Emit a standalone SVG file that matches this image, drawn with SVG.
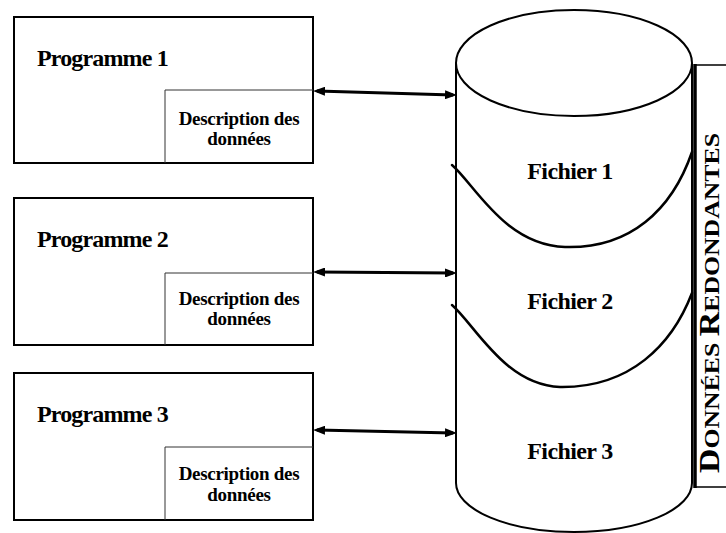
<svg xmlns="http://www.w3.org/2000/svg" width="726" height="533" viewBox="0 0 726 533">
  <defs>
    <style>
      .frame { fill: #fff; stroke: #000; stroke-width: 2; }
      .inner { fill: none; stroke: #333; stroke-width: 1; }
      .title { font-family: "Liberation Serif", "Times New Roman", serif; font-weight: bold; font-size: 24px; letter-spacing: -0.85px; fill: #000; }
      .desc { font-family: "Liberation Serif", "Times New Roman", serif; font-weight: bold; font-size: 19px; letter-spacing: -0.3px; fill: #000; text-anchor: middle; }
      .file { font-family: "Liberation Serif", "Times New Roman", serif; font-weight: bold; font-size: 24px; letter-spacing: -0.6px; fill: #000; text-anchor: middle; }
      .drum { fill: none; stroke: #000; stroke-width: 2; }
      .wave { fill: none; stroke: #000; stroke-width: 2.5; stroke-linecap: round; }
      .link { stroke: #000; stroke-width: 3; fill: none; }
      .label { font-family: "Liberation Serif", "Times New Roman", serif; font-weight: bold; fill: #000; }
    </style>
    <marker id="head" viewBox="0 0 12 9" refX="8" refY="4.5" markerWidth="12" markerHeight="9" markerUnits="userSpaceOnUse" orient="auto-start-reverse">
      <path d="M0,0 L12,4.5 L0,9 z" fill="#000"/>
    </marker>
  </defs>

  <rect width="726" height="533" fill="#fff"/>

  <!-- Program 1 -->
  <g id="programme1">
    <rect class="frame" x="14" y="17" width="299" height="146"/>
    <path class="inner" d="M313,90 H165 V163"/>
    <text class="title" x="37" y="66">Programme 1</text>
    <text class="desc" x="239" y="125">Description des</text>
    <text class="desc" x="239" y="145">données</text>
  </g>

  <!-- Program 2 -->
  <g id="programme2">
    <rect class="frame" x="14" y="198" width="299" height="147"/>
    <path class="inner" d="M313,273 H165 V345"/>
    <text class="title" x="37" y="247">Programme 2</text>
    <text class="desc" x="239" y="305">Description des</text>
    <text class="desc" x="239" y="325">données</text>
  </g>

  <!-- Program 3 -->
  <g id="programme3">
    <rect class="frame" x="14" y="373" width="299" height="147"/>
    <path class="inner" d="M313,447 H165 V520"/>
    <text class="title" x="37" y="422">Programme 3</text>
    <text class="desc" x="239" y="480">Description des</text>
    <text class="desc" x="239" y="501">données</text>
  </g>

  <!-- Label panel -->
  <g id="donnees-redondantes">
    <path d="M726,65 H695 V487 H726" fill="none" stroke="#000" stroke-width="1.5"/>
    <line x1="695" y1="64" x2="695" y2="488" stroke="#000" stroke-width="3.5"/>
    <text class="label" transform="translate(719,473) rotate(-90)" textLength="340" lengthAdjust="spacingAndGlyphs"><tspan font-size="29">D</tspan><tspan font-size="22">ONNÉES </tspan><tspan font-size="29">R</tspan><tspan font-size="22">EDONDANTES</tspan></text>
  </g>

  <!-- File storage drum -->
  <g id="fichiers">
    <ellipse class="drum" cx="574" cy="63" rx="118" ry="53" fill="#fff"/>
    <path class="drum" d="M456,63 V483 A118,49 0 0 0 692,483 V63"/>
    <path class="wave" d="M452,165 C475,185 505,245 565,247 C630,249 672,210 692,152"/>
    <path class="wave" d="M452,305 C475,325 505,385 560,387 C630,388 672,345 692,293"/>
    <text class="file" x="570" y="179">Fichier 1</text>
    <text class="file" x="570" y="309">Fichier 2</text>
    <text class="file" x="570" y="459">Fichier 3</text>
  </g>

  <!-- Connectors -->
  <g id="connecteurs">
    <line class="link" x1="317" y1="91" x2="453" y2="95" marker-start="url(#head)" marker-end="url(#head)"/>
    <line class="link" x1="317" y1="272" x2="453" y2="273" marker-start="url(#head)" marker-end="url(#head)"/>
    <line class="link" x1="317" y1="430" x2="453" y2="433" marker-start="url(#head)" marker-end="url(#head)"/>
  </g>
</svg>
